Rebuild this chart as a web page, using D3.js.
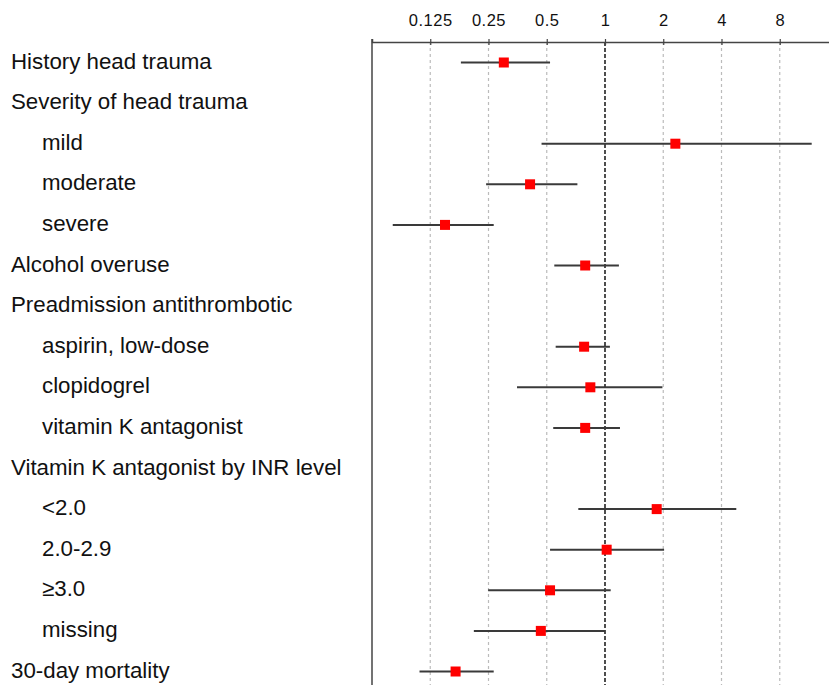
<!DOCTYPE html>
<html>
<head>
<meta charset="utf-8">
<script src="https://cdn.jsdelivr.net/npm/d3@7"></script>
<style>
  html, body { margin: 0; padding: 0; background: #fff; }
  svg { display: block; }
  text { font-family: "Liberation Sans", Arial, Helvetica, sans-serif; fill: #111; }
</style>
</head>
<body>
<svg id="chart" width="829" height="685"></svg>
<script>
// Row labels, top to bottom; indent = 1 marks a sub-category
const labels = [
  "History head trauma", "Severity of head trauma", "mild", "moderate", "severe",
  "Alcohol overuse", "Preadmission antithrombotic", "aspirin, low-dose", "clopidogrel",
  "vitamin K antagonist", "Vitamin K antagonist by INR level", "<2.0", "2.0-2.9",
  "\u22653.0", "missing", "30-day mortality"
];
const indent = [0, 0, 1, 1, 1, 0, 0, 1, 1, 1, 0, 1, 1, 1, 1, 0];
// Point estimates and 95% CI (null where a row is only a heading)
const estimate = [0.30, null, 2.31, 0.41, 0.149, 0.79, null, 0.78, 0.84, 0.79, null, 1.85, 1.02, 0.52, 0.466, 0.169];
const lower    = [0.18, null, 0.47, 0.243, 0.080, 0.547, null, 0.556, 0.351, 0.54, null, 0.728, 0.52, 0.249, 0.21, 0.110];
const upper    = [0.52, null, 11.7, 0.72, 0.266, 1.18, null, 1.06, 1.98, 1.195, null, 4.77, 2.02, 1.07, 1.0, 0.266];
// Axis tick values and their labels
const tickValues = [0.125, 0.25, 0.5, 1, 2, 4, 8];
const tickLabels = ["0.125", "0.25", "0.5", "1", "2", "4", "8"];

const svg = d3.select("#chart");
const axisY = 42;
const x = d3.scaleLog().base(2).domain([1 / 16, 16]).range([372, 838]);
const y = d3.scalePoint().domain(d3.range(labels.length)).range([62.5, 671.5]);

// dashed reference grid
svg.append("g").selectAll("line")
  .data(tickValues)
  .join("line")
  .attr("x1", d => x(d)).attr("x2", d => x(d))
  .attr("y1", axisY).attr("y2", 685)
  .attr("stroke", d => d === 1 ? "#222" : "#bbb")
  .attr("stroke-width", d => d === 1 ? 1.6 : 1.2)
  .attr("stroke-dasharray", d => d === 1 ? "4,2" : "3,3");

// left frame
svg.append("line")
  .attr("x1", 372).attr("x2", 372).attr("y1", axisY - 3).attr("y2", 685)
  .attr("stroke", "#444").attr("stroke-width", 1.5);

// top axis
const axis = d3.axisTop(x).tickValues(tickValues)
  .tickFormat((d, i) => tickLabels[i]).tickSize(3).tickPadding(13);
const gAxis = svg.append("g").attr("transform", `translate(0,${axisY})`).call(axis);
gAxis.select(".domain").attr("stroke", "#444").attr("stroke-width", 1.5);
gAxis.selectAll(".tick line").attr("stroke", "#444").attr("stroke-width", 1.2).attr("y2", 3).attr("y1", -3);
gAxis.selectAll(".tick text")
  .attr("font-family", "'Liberation Sans', Arial, sans-serif")
  .attr("font-size", 16.5).attr("letter-spacing", "0.5px").attr("fill", "#111");

// row labels
svg.append("g").selectAll("text")
  .data(labels)
  .join("text")
  .attr("x", (d, i) => indent[i] ? 42 : 11)
  .attr("y", (d, i) => y(i) + 6)
  .attr("font-size", 22.3)
  .text(d => d);

const rows = d3.range(labels.length).filter(i => estimate[i] !== null);

// confidence intervals
svg.append("g").selectAll("line")
  .data(rows)
  .join("line")
  .attr("x1", i => x(lower[i])).attr("x2", i => x(upper[i]))
  .attr("y1", i => y(i)).attr("y2", i => y(i))
  .attr("stroke", "#3a3a3a").attr("stroke-width", 2);

// point estimates
const s = 10;
svg.append("g").selectAll("rect")
  .data(rows)
  .join("rect")
  .attr("x", i => x(estimate[i]) - s / 2)
  .attr("y", i => y(i) - s / 2)
  .attr("width", s).attr("height", s)
  .attr("fill", "#ff0000");
</script>
</body>
</html>
